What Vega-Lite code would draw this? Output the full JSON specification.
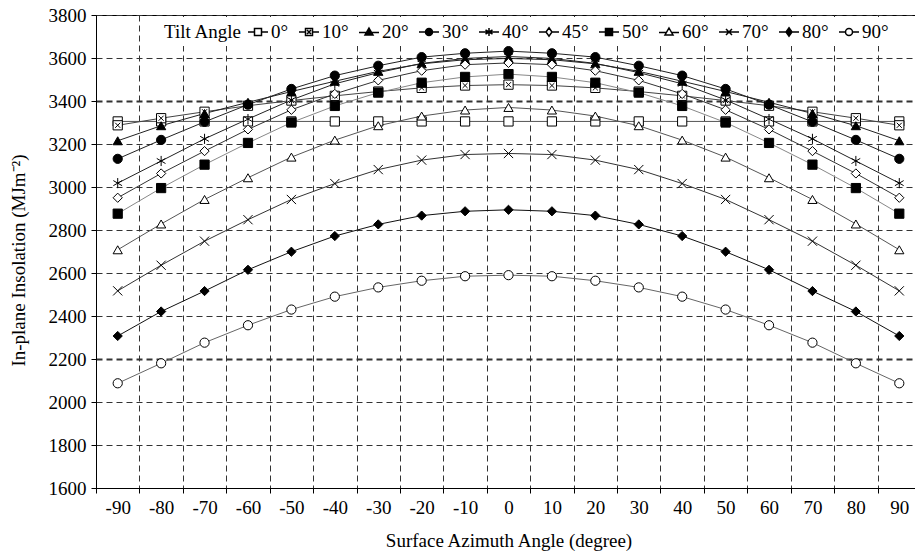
{
"$schema": "https://vega.github.io/schema/vega-lite/v6.json",
"autosize": {"type": "none"},
"padding": {"left": 96, "top": 15, "right": 0, "bottom": 65},
"width": 825,
"height": 473,
"background": "white",
"config": {
  "font": "Liberation Serif",
  "view": {"stroke": "black", "strokeWidth": 1},
  "axis": {"domainColor": "black", "tickColor": "black", "labelColor": "black", "titleColor": "black", "labelFont": "Liberation Serif", "titleFont": "Liberation Serif", "labelFontSize": 19, "titleFontSize": 19, "titleFontWeight": "normal", "gridColor": "#333", "gridDash": [6, 4], "gridOpacity": 1, "tickSize": 5}
},
"data": {"values": [
{"azimuth":-90,"tilt":"0°","value":3305},{"azimuth":-80,"tilt":"0°","value":3305},{"azimuth":-70,"tilt":"0°","value":3305},{"azimuth":-60,"tilt":"0°","value":3305},{"azimuth":-50,"tilt":"0°","value":3305},{"azimuth":-40,"tilt":"0°","value":3305},{"azimuth":-30,"tilt":"0°","value":3305},{"azimuth":-20,"tilt":"0°","value":3305},{"azimuth":-10,"tilt":"0°","value":3305},{"azimuth":0,"tilt":"0°","value":3305},{"azimuth":10,"tilt":"0°","value":3305},{"azimuth":20,"tilt":"0°","value":3305},{"azimuth":30,"tilt":"0°","value":3305},{"azimuth":40,"tilt":"0°","value":3305},{"azimuth":50,"tilt":"0°","value":3305},{"azimuth":60,"tilt":"0°","value":3305},{"azimuth":70,"tilt":"0°","value":3305},{"azimuth":80,"tilt":"0°","value":3305},{"azimuth":90,"tilt":"0°","value":3305},
{"azimuth":-90,"tilt":"10°","value":3287},{"azimuth":-80,"tilt":"10°","value":3320},{"azimuth":-70,"tilt":"10°","value":3350},{"azimuth":-60,"tilt":"10°","value":3378},{"azimuth":-50,"tilt":"10°","value":3402},{"azimuth":-40,"tilt":"10°","value":3424},{"azimuth":-30,"tilt":"10°","value":3444},{"azimuth":-20,"tilt":"10°","value":3461},{"azimuth":-10,"tilt":"10°","value":3472},{"azimuth":0,"tilt":"10°","value":3476},{"azimuth":10,"tilt":"10°","value":3472},{"azimuth":20,"tilt":"10°","value":3461},{"azimuth":30,"tilt":"10°","value":3444},{"azimuth":40,"tilt":"10°","value":3424},{"azimuth":50,"tilt":"10°","value":3402},{"azimuth":60,"tilt":"10°","value":3378},{"azimuth":70,"tilt":"10°","value":3350},{"azimuth":80,"tilt":"10°","value":3320},{"azimuth":90,"tilt":"10°","value":3287},
{"azimuth":-90,"tilt":"20°","value":3215},{"azimuth":-80,"tilt":"20°","value":3285},{"azimuth":-70,"tilt":"20°","value":3342},{"azimuth":-60,"tilt":"20°","value":3394},{"azimuth":-50,"tilt":"20°","value":3444},{"azimuth":-40,"tilt":"20°","value":3492},{"azimuth":-30,"tilt":"20°","value":3538},{"azimuth":-20,"tilt":"20°","value":3573},{"azimuth":-10,"tilt":"20°","value":3592},{"azimuth":0,"tilt":"20°","value":3598},{"azimuth":10,"tilt":"20°","value":3592},{"azimuth":20,"tilt":"20°","value":3573},{"azimuth":30,"tilt":"20°","value":3538},{"azimuth":40,"tilt":"20°","value":3492},{"azimuth":50,"tilt":"20°","value":3444},{"azimuth":60,"tilt":"20°","value":3394},{"azimuth":70,"tilt":"20°","value":3342},{"azimuth":80,"tilt":"20°","value":3285},{"azimuth":90,"tilt":"20°","value":3215},
{"azimuth":-90,"tilt":"30°","value":3131},{"azimuth":-80,"tilt":"30°","value":3219},{"azimuth":-70,"tilt":"30°","value":3303},{"azimuth":-60,"tilt":"30°","value":3383},{"azimuth":-50,"tilt":"30°","value":3456},{"azimuth":-40,"tilt":"30°","value":3518},{"azimuth":-30,"tilt":"30°","value":3564},{"azimuth":-20,"tilt":"30°","value":3604},{"azimuth":-10,"tilt":"30°","value":3622},{"azimuth":0,"tilt":"30°","value":3632},{"azimuth":10,"tilt":"30°","value":3622},{"azimuth":20,"tilt":"30°","value":3604},{"azimuth":30,"tilt":"30°","value":3564},{"azimuth":40,"tilt":"30°","value":3518},{"azimuth":50,"tilt":"30°","value":3456},{"azimuth":60,"tilt":"30°","value":3383},{"azimuth":70,"tilt":"30°","value":3303},{"azimuth":80,"tilt":"30°","value":3219},{"azimuth":90,"tilt":"30°","value":3131},
{"azimuth":-90,"tilt":"40°","value":3018},{"azimuth":-80,"tilt":"40°","value":3121},{"azimuth":-70,"tilt":"40°","value":3224},{"azimuth":-60,"tilt":"40°","value":3316},{"azimuth":-50,"tilt":"40°","value":3405},{"azimuth":-40,"tilt":"40°","value":3480},{"azimuth":-30,"tilt":"40°","value":3532},{"azimuth":-20,"tilt":"40°","value":3575},{"azimuth":-10,"tilt":"40°","value":3598},{"azimuth":0,"tilt":"40°","value":3607},{"azimuth":10,"tilt":"40°","value":3598},{"azimuth":20,"tilt":"40°","value":3575},{"azimuth":30,"tilt":"40°","value":3532},{"azimuth":40,"tilt":"40°","value":3480},{"azimuth":50,"tilt":"40°","value":3405},{"azimuth":60,"tilt":"40°","value":3316},{"azimuth":70,"tilt":"40°","value":3224},{"azimuth":80,"tilt":"40°","value":3121},{"azimuth":90,"tilt":"40°","value":3018},
{"azimuth":-90,"tilt":"45°","value":2950},{"azimuth":-80,"tilt":"45°","value":3063},{"azimuth":-70,"tilt":"45°","value":3167},{"azimuth":-60,"tilt":"45°","value":3268},{"azimuth":-50,"tilt":"45°","value":3359},{"azimuth":-40,"tilt":"45°","value":3433},{"azimuth":-30,"tilt":"45°","value":3496},{"azimuth":-20,"tilt":"45°","value":3541},{"azimuth":-10,"tilt":"45°","value":3569},{"azimuth":0,"tilt":"45°","value":3577},{"azimuth":10,"tilt":"45°","value":3569},{"azimuth":20,"tilt":"45°","value":3541},{"azimuth":30,"tilt":"45°","value":3496},{"azimuth":40,"tilt":"45°","value":3433},{"azimuth":50,"tilt":"45°","value":3359},{"azimuth":60,"tilt":"45°","value":3268},{"azimuth":70,"tilt":"45°","value":3167},{"azimuth":80,"tilt":"45°","value":3063},{"azimuth":90,"tilt":"45°","value":2950},
{"azimuth":-90,"tilt":"50°","value":2876},{"azimuth":-80,"tilt":"50°","value":2995},{"azimuth":-70,"tilt":"50°","value":3104},{"azimuth":-60,"tilt":"50°","value":3205},{"azimuth":-50,"tilt":"50°","value":3300},{"azimuth":-40,"tilt":"50°","value":3377},{"azimuth":-30,"tilt":"50°","value":3439},{"azimuth":-20,"tilt":"50°","value":3485},{"azimuth":-10,"tilt":"50°","value":3512},{"azimuth":0,"tilt":"50°","value":3525},{"azimuth":10,"tilt":"50°","value":3512},{"azimuth":20,"tilt":"50°","value":3485},{"azimuth":30,"tilt":"50°","value":3439},{"azimuth":40,"tilt":"50°","value":3377},{"azimuth":50,"tilt":"50°","value":3300},{"azimuth":60,"tilt":"50°","value":3205},{"azimuth":70,"tilt":"50°","value":3104},{"azimuth":80,"tilt":"50°","value":2995},{"azimuth":90,"tilt":"50°","value":2876},
{"azimuth":-90,"tilt":"60°","value":2708},{"azimuth":-80,"tilt":"60°","value":2828},{"azimuth":-70,"tilt":"60°","value":2942},{"azimuth":-60,"tilt":"60°","value":3043},{"azimuth":-50,"tilt":"60°","value":3139},{"azimuth":-40,"tilt":"60°","value":3218},{"azimuth":-30,"tilt":"60°","value":3285},{"azimuth":-20,"tilt":"60°","value":3330},{"azimuth":-10,"tilt":"60°","value":3358},{"azimuth":0,"tilt":"60°","value":3370},{"azimuth":10,"tilt":"60°","value":3358},{"azimuth":20,"tilt":"60°","value":3330},{"azimuth":30,"tilt":"60°","value":3285},{"azimuth":40,"tilt":"60°","value":3218},{"azimuth":50,"tilt":"60°","value":3139},{"azimuth":60,"tilt":"60°","value":3043},{"azimuth":70,"tilt":"60°","value":2942},{"azimuth":80,"tilt":"60°","value":2828},{"azimuth":90,"tilt":"60°","value":2708},
{"azimuth":-90,"tilt":"70°","value":2517},{"azimuth":-80,"tilt":"70°","value":2636},{"azimuth":-70,"tilt":"70°","value":2748},{"azimuth":-60,"tilt":"70°","value":2848},{"azimuth":-50,"tilt":"70°","value":2942},{"azimuth":-40,"tilt":"70°","value":3016},{"azimuth":-30,"tilt":"70°","value":3081},{"azimuth":-20,"tilt":"70°","value":3125},{"azimuth":-10,"tilt":"70°","value":3151},{"azimuth":0,"tilt":"70°","value":3156},{"azimuth":10,"tilt":"70°","value":3151},{"azimuth":20,"tilt":"70°","value":3125},{"azimuth":30,"tilt":"70°","value":3081},{"azimuth":40,"tilt":"70°","value":3016},{"azimuth":50,"tilt":"70°","value":2942},{"azimuth":60,"tilt":"70°","value":2848},{"azimuth":70,"tilt":"70°","value":2748},{"azimuth":80,"tilt":"70°","value":2636},{"azimuth":90,"tilt":"70°","value":2517},
{"azimuth":-90,"tilt":"80°","value":2307},{"azimuth":-80,"tilt":"80°","value":2421},{"azimuth":-70,"tilt":"80°","value":2516},{"azimuth":-60,"tilt":"80°","value":2615},{"azimuth":-50,"tilt":"80°","value":2699},{"azimuth":-40,"tilt":"80°","value":2772},{"azimuth":-30,"tilt":"80°","value":2826},{"azimuth":-20,"tilt":"80°","value":2867},{"azimuth":-10,"tilt":"80°","value":2887},{"azimuth":0,"tilt":"80°","value":2894},{"azimuth":10,"tilt":"80°","value":2887},{"azimuth":20,"tilt":"80°","value":2867},{"azimuth":30,"tilt":"80°","value":2826},{"azimuth":40,"tilt":"80°","value":2772},{"azimuth":50,"tilt":"80°","value":2699},{"azimuth":60,"tilt":"80°","value":2615},{"azimuth":70,"tilt":"80°","value":2516},{"azimuth":80,"tilt":"80°","value":2421},{"azimuth":90,"tilt":"80°","value":2307},
{"azimuth":-90,"tilt":"90°","value":2087},{"azimuth":-80,"tilt":"90°","value":2180},{"azimuth":-70,"tilt":"90°","value":2276},{"azimuth":-60,"tilt":"90°","value":2357},{"azimuth":-50,"tilt":"90°","value":2430},{"azimuth":-40,"tilt":"90°","value":2490},{"azimuth":-30,"tilt":"90°","value":2533},{"azimuth":-20,"tilt":"90°","value":2564},{"azimuth":-10,"tilt":"90°","value":2585},{"azimuth":0,"tilt":"90°","value":2590},{"azimuth":10,"tilt":"90°","value":2585},{"azimuth":20,"tilt":"90°","value":2564},{"azimuth":30,"tilt":"90°","value":2533},{"azimuth":40,"tilt":"90°","value":2490},{"azimuth":50,"tilt":"90°","value":2430},{"azimuth":60,"tilt":"90°","value":2357},{"azimuth":70,"tilt":"90°","value":2276},{"azimuth":80,"tilt":"90°","value":2180},{"azimuth":90,"tilt":"90°","value":2087}
]},
"encoding": {
  "x": {"field": "azimuth", "type": "ordinal",
        "scale": {"type": "band", "domain": [-90,-80,-70,-60,-50,-40,-30,-20,-10,0,10,20,30,40,50,60,70,80,90], "paddingInner": 0, "paddingOuter": 0},
        "axis": {"title": "Surface Azimuth Angle (degree)", "labelAngle": 0, "tickBand": "extent", "grid": true, "labelPadding": 5, "titleY": 52, "titleBaseline": "middle"}},
  "y": {"field": "value", "type": "quantitative",
        "scale": {"domain": [1600, 3800], "nice": false, "zero": false},
        "axis": {"title": "In-plane Insolation (MJm⁻²)", "format": "d", "values": [1600,1800,2000,2200,2400,2600,2800,3000,3200,3400,3600,3800], "labelPadding": 5, "titleX": -78, "titleY": 245, "titleAngle": 270, "titleAlign": "center", "titleBaseline": "middle",
                 "gridWidth": {"condition": {"test": "datum.value === 3400 || datum.value === 2200", "value": 2}, "value": 1}}}
},
"layer": [
  {"mark": {"type": "line", "strokeWidth": 1},
   "encoding": {"stroke": {"field": "tilt", "type": "nominal", "legend": null,
      "scale": {"domain": ["0°","10°","20°","30°","40°","45°","50°","60°","70°","80°","90°"], "range": ["#555","#444","#222","#222","#222","#333","#888","#555","#333","#111","#666"]}}}},
  {"mark": {"type": "point", "filled": true, "stroke": "black", "strokeWidth": 1, "size": 85, "opacity": 1},
   "encoding": {
     "shape": {"field": "tilt", "type": "nominal", "legend": null,
       "scale": {"domain": ["0°","10°","20°","30°","40°","45°","50°","60°","70°","80°","90°"],
                 "range": ["square", "M-1,-1H1V1H-1ZM-0.55,-0.55L0.55,0.55M0.55,-0.55L-0.55,0.55", "triangle-up", "circle", "M0,-1.1V1.1M-0.95,-0.55L0.95,0.55M-0.95,0.55L0.95,-0.55", "diamond", "square", "triangle-up", "M-1,-1L1,1M1,-1L-1,1", "diamond", "circle"]}},
     "fill": {"field": "tilt", "type": "nominal", "legend": null,
       "scale": {"domain": ["0°","10°","20°","30°","40°","45°","50°","60°","70°","80°","90°"],
                 "range": ["white","white","black","black","black","white","black","white","black","black","white"]}}}},
  {"transform": [{"filter": "datum.value < 0"}],
   "mark": {"type": "point", "filled": true, "stroke": "black", "strokeWidth": 1, "size": 70, "opacity": 1},
   "encoding": {
     "shape": {"field": "tilt", "type": "nominal",
       "scale": {"domain": ["0°","10°","20°","30°","40°","45°","50°","60°","70°","80°","90°"],
                 "range": ["M-1,0H-0.35M0.35,0H1M-0.35,-0.35H0.35V0.35H-0.35Z",
                           "M-1,0H-0.35M0.35,0H1M-0.35,-0.35H0.35V0.35H-0.35ZM-0.2,-0.2L0.2,0.2M0.2,-0.2L-0.2,0.2",
                           "M-1,0.05H1M0,-0.4L0.4,0.3H-0.4Z",
                           "M-1,0H1M0.35,0A0.35,0.35 0 1,1 -0.35,0A0.35,0.35 0 1,1 0.35,0Z",
                           "M-1,0H1M0,-0.4V0.4M-0.35,-0.2L0.35,0.2M-0.35,0.2L0.35,-0.2",
                           "M-1,0H-0.3M0.3,0H1M0,-0.42L0.3,0L0,0.42L-0.3,0Z",
                           "M-1,0H1M-0.35,-0.35H0.35V0.35H-0.35Z",
                           "M-1,0.05H-0.257M0.257,0.05H1M0,-0.4L0.4,0.3H-0.4Z",
                           "M-1,0H1M-0.3,-0.3L0.3,0.3M0.3,-0.3L-0.3,0.3",
                           "M-1,0H1M0,-0.42L0.3,0L0,0.42L-0.3,0Z",
                           "M-1,0H-0.35M0.35,0H1M0.35,0A0.35,0.35 0 1,1 -0.35,0A0.35,0.35 0 1,1 0.35,0Z"]},
       "legend": {"title": "Tilt Angle", "orient": "none", "legendX": 64, "legendY": 2, "direction": "horizontal", "columns": 11,
                  "titleOrient": "left", "titleFontSize": 19, "titleFontWeight": "normal", "titleFont": "Liberation Serif", "titleColor": "black", "titlePadding": 5,
                  "labelFontSize": 19, "labelFont": "Liberation Serif", "labelColor": "black", "labelOffset": 2,
                  "symbolSize": 400, "columnPadding": 7,
                  "fillColor": "white", "padding": 4,
                  "encode": {"symbols": {"update": {"stroke": {"value": "black"}, "strokeWidth": {"value": 1}}}}}},
     "fill": {"field": "tilt", "type": "nominal",
       "scale": {"domain": ["0°","10°","20°","30°","40°","45°","50°","60°","70°","80°","90°"],
                 "range": ["white","white","black","black","black","white","black","white","black","black","white"]}}}}
],
"resolve": {"scale": {"shape": "independent", "fill": "independent"}}
}
